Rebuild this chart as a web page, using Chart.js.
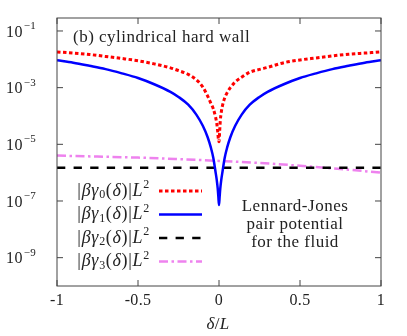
<!DOCTYPE html>
<html>
<head>
<meta charset="utf-8">
<script src="https://cdn.jsdelivr.net/npm/chart.js@4.4.1/dist/chart.umd.min.js"></script>
<style>
  html, body { margin: 0; padding: 0; background: #fff; }
  #wrap { width: 407px; height: 336px; }
</style>
</head>
<body>
<div id="wrap"><canvas id="chart" width="407" height="336"></canvas></div>
<script>
// delta/L samples for the two cusp curves (gamma0, gamma1)
const deltas = [-1, -0.9, -0.8, -0.7, -0.6, -0.5, -0.4, -0.3, -0.25, -0.19, -0.14, -0.1, -0.07, -0.05,
                -0.035, -0.022, -0.014, -0.008, -0.004, 0,
                0.004, 0.008, 0.014, 0.022, 0.035, 0.05, 0.07, 0.1, 0.14, 0.19, 0.25, 0.3, 0.4, 0.5,
                0.6, 0.7, 0.8, 0.9, 1];
const gamma0 = [0.0182, 0.0166, 0.0148, 0.0126, 0.0107, 0.0089, 0.0069, 0.0050, 0.0040, 0.00295, 0.0019,
                0.00105, 5.0e-4, 2.8e-4, 1.78e-4, 9.5e-5, 5.6e-5, 2.8e-5, 1.58e-5, 1.23e-5,
                2.8e-5, 6.8e-5, 1.35e-4, 2.4e-4, 4.3e-4, 6.6e-4, 1.0e-3, 1.58e-3, 2.35e-3, 3.5e-3,
                4.4e-3, 5.2e-3, 7.6e-3, 9.5e-3, 0.0112, 0.0132, 0.0151, 0.0166, 0.0182];
const gamma1 = [9.3e-3, 7.6e-3, 5.9e-3, 4.5e-3, 3.2e-3, 2.19e-3, 1.32e-3, 7.1e-4, 4.7e-4, 2.5e-4, 1.12e-4,
                4.5e-5, 1.78e-5, 7.6e-6, 3.3e-6, 1.12e-6, 5.6e-7, 2.8e-7, 1.41e-7, 7.2e-8,
                1.41e-7, 2.8e-7, 5.6e-7, 1.12e-6, 3.3e-6, 7.6e-6, 1.78e-5, 4.5e-5, 1.12e-4, 2.5e-4,
                4.7e-4, 7.1e-4, 1.32e-3, 2.19e-3, 3.2e-3, 4.5e-3, 5.9e-3, 7.6e-3, 9.3e-3];
const deltasFlat = [-1, 1];
const gamma2 = [1.5e-6, 1.5e-6];
const deltasLJ = [-1, -0.75, -0.5, -0.25, 0, 0.25, 0.5, 0.75, 1];
const gamma3 = [4.0e-6, 3.7e-6, 3.4e-6, 3.0e-6, 2.6e-6, 2.2e-6, 1.75e-6, 1.35e-6, 1.0e-6];

const xTicks = [-1, -0.5, 0, 0.5, 1];
const xTickLabels = ['-1', '-0.5', '0', '0.5', '1'];
const yTicks = [1e-1, 1e-3, 1e-5, 1e-7, 1e-9];
const yTickExps = ['\u22121', '\u22123', '\u22125', '\u22127', '\u22129'];
const seriesIdx = ['0', '1', '2', '3'];
const title = '(b) cylindrical hard wall';
const note = ['Lennard-Jones', 'pair potential', 'for the fluid'];

const SERIF = '"Liberation Serif", "Times New Roman", serif';
const pts = (xs, ys) => xs.map((x, i) => ({ x, y: ys[i] }));

function drawParts(ctx, parts, x, y, align) {
  let w = 0;
  parts.forEach(p => { ctx.font = p.f; w += ctx.measureText(p.t).width; });
  let cx = align === 'right' ? x - w : align === 'center' ? x - w / 2 : x;
  ctx.textAlign = 'left';
  parts.forEach(p => {
    ctx.font = p.f;
    ctx.fillText(p.t, cx, y + (p.dy || 0));
    cx += ctx.measureText(p.t).width;
  });
}

const decor = {
  id: 'decor',
  afterDatasetsDraw(chart) {
    const { ctx, chartArea: a, scales: { x, y } } = chart;
    ctx.save();
    // frame + inward ticks
    ctx.strokeStyle = '#444';
    ctx.lineWidth = 1;
    ctx.strokeRect(a.left, a.top, a.right - a.left, a.bottom - a.top);
    ctx.beginPath();
    xTicks.forEach(v => {
      const px = x.getPixelForValue(v);
      ctx.moveTo(px, a.bottom); ctx.lineTo(px, a.bottom - 6);
      ctx.moveTo(px, a.top); ctx.lineTo(px, a.top + 6);
    });
    yTicks.forEach(v => {
      const py = y.getPixelForValue(v);
      ctx.moveTo(a.left, py); ctx.lineTo(a.left + 6, py);
      ctx.moveTo(a.right, py); ctx.lineTo(a.right - 6, py);
    });
    ctx.stroke();

    ctx.fillStyle = '#222';
    ctx.textBaseline = 'middle';
    ctx.letterSpacing = '0.3px';
    // x tick labels
    ctx.font = '16px ' + SERIF;
    ctx.textAlign = 'center';
    xTicks.forEach((v, i) => ctx.fillText(xTickLabels[i], x.getPixelForValue(v), 301));
    // y tick labels 10^n
    yTicks.forEach((v, i) => {
      const py = y.getPixelForValue(v);
      ctx.textAlign = 'right';
      ctx.font = '11px ' + SERIF;
      const ew = ctx.measureText(yTickExps[i]).width;
      ctx.fillText(yTickExps[i], 36, py - 5);
      ctx.font = '16px ' + SERIF;
      ctx.fillText('10', 36 - ew - 1, py + 1.5);
    });
    // axis title
    drawParts(ctx, [
      { t: '\u03b4', f: 'italic 17px ' + SERIF },
      { t: '/', f: '17px ' + SERIF },
      { t: 'L', f: 'italic 17px ' + SERIF }
    ], 218, 325, 'center');

    // title and note
    ctx.letterSpacing = '0.5px';
    ctx.textBaseline = 'alphabetic';
    ctx.font = '17px ' + SERIF;
    ctx.textAlign = 'left';
    ctx.fillText(title, 73, 42);
    ctx.textAlign = 'center';
    note.forEach((s, i) => ctx.fillText(s, 295, 211 + i * 17.8));

    // legend
    ctx.letterSpacing = '0.7px';
    ctx.textBaseline = 'middle';
    chart.data.datasets.forEach((ds, i) => {
      const ry = 191 + i * 23.5;
      drawParts(ctx, [
        { t: '|', f: '18px ' + SERIF },
        { t: '\u03b2\u03b3', f: 'italic 18px ' + SERIF },
        { t: seriesIdx[i], f: '12px ' + SERIF, dy: 4 },
        { t: '(', f: '18px ' + SERIF },
        { t: '\u03b4', f: 'italic 18px ' + SERIF },
        { t: ')|', f: '18px ' + SERIF },
        { t: 'L', f: 'italic 18px ' + SERIF },
        { t: '2', f: '12px ' + SERIF, dy: -6 }
      ], 150, ry, 'right');
      ctx.save();
      ctx.strokeStyle = ds.borderColor;
      ctx.lineWidth = ds.borderWidth;
      ctx.setLineDash(ds.borderDash || []);
      ctx.beginPath();
      ctx.moveTo(159, ry); ctx.lineTo(202, ry);
      ctx.stroke();
      ctx.restore();
    });
    ctx.restore();
  }
};

new Chart(document.getElementById('chart').getContext('2d'), {
  type: 'line',
  data: {
    datasets: [
      { data: pts(deltas, gamma0), borderColor: '#ff0000', borderWidth: 3, borderDash: [3.5, 2.5] },
      { data: pts(deltas, gamma1), borderColor: '#0000ff', borderWidth: 2.5 },
      { data: pts(deltasFlat, gamma2), borderColor: '#000000', borderWidth: 2.5, borderDash: [8.3, 8.3] },
      { data: pts(deltasLJ, gamma3), borderColor: '#ee82ee', borderWidth: 2.5, borderDash: [9, 3.5, 2.5, 3.5] }
    ]
  },
  options: {
    responsive: false,
    animation: false,
    layout: { padding: { left: 57, right: 26, top: 18, bottom: 50 } },
    elements: { point: { radius: 0 }, line: { cubicInterpolationMode: 'monotone' } },
    plugins: { legend: { display: false }, tooltip: { enabled: false } },
    scales: {
      x: {
        type: 'linear', min: -1, max: 1,
        grid: { display: false }, border: { display: false }, ticks: { display: false },
        afterFit: s => { s.height = 0; }
      },
      y: {
        type: 'logarithmic', min: 1e-10, max: 0.287,
        grid: { display: false }, border: { display: false }, ticks: { display: false },
        afterFit: s => { s.width = 0; }
      }
    }
  },
  plugins: [decor]
});
</script>
</body>
</html>
